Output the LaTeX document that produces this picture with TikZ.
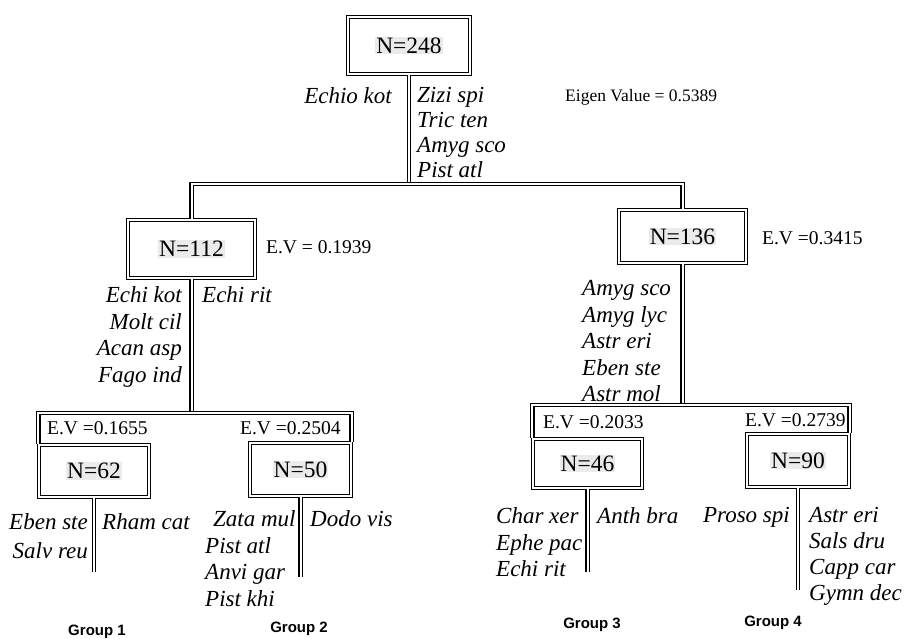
\documentclass[tikz,border=0pt]{standalone}
\usepackage{fontspec}
\setmainfont{Liberation Serif}
\newfontfamily\grpfont{Liberation Sans}
\setlength{\fboxsep}{1pt}
\newcommand{\nlab}[1]{\colorbox{black!8}{#1}}

\tikzset{
  nbox/.style={draw, double, double distance=2.2pt, line width=1.3pt, inner sep=0pt,
    font=\fontsize{23.5}{23.5}\selectfont},
  link/.style={double, double distance=2pt, line width=1.3pt},
  sp/.style={inner sep=0pt, font=\fontsize{23}{26.5}\selectfont\itshape},
  ev/.style={inner sep=0pt, anchor=west, font=\fontsize{19.5}{19.5}\selectfont},
  grp/.style={inner sep=0pt, font=\grpfont\bfseries\fontsize{15}{15}\selectfont}
}

\begin{document}
\begin{tikzpicture}[x=1pt,y=-1pt]
  \useasboundingbox (0,0) rectangle (905,639);

  % boxes
  \node[nbox, minimum width=122pt, minimum height=57pt] (n248) at (409,45.5) {\nlab{N=248}};
  \node[nbox, minimum width=127pt, minimum height=58pt] (n112) at (191.5,249) {\nlab{N=112}};
  \node[nbox, minimum width=127pt, minimum height=53pt] (n136) at (682.5,236.5) {\nlab{N=136}};
  \node[nbox, minimum width=110pt, minimum height=52pt] (n62) at (94,471) {\nlab{N=62}};
  \node[nbox, minimum width=101pt, minimum height=53pt] (n50) at (300.5,469.5) {\nlab{N=50}};
  \node[nbox, minimum width=109pt, minimum height=49pt] (n46) at (587.5,463.5) {\nlab{N=46}};
  \node[nbox, minimum width=102pt, minimum height=53pt] (n90) at (798,460.5) {\nlab{N=90}};

  % joints and leaf ends
  \coordinate (jA) at (409,184);
  \coordinate (jB) at (191.5,413);
  \coordinate (jC) at (682.5,405);
  \coordinate (e62) at (94,572);
  \coordinate (e50) at (300.5,577);
  \coordinate (e46) at (587.5,572);
  \coordinate (e90) at (798,590);

  % tree
  \draw[link] (n248) -- (jA);
  \draw[link] (n112) |- (jA) -| (n136);
  \draw[link] (n112) -- (jB);
  \draw[link] (n62.north west) |- (jB) -| (n50.north east);
  \draw[link] (n136) -- (jC);
  \draw[link] (n46.north west) |- (jC) -| (n90.north east);
  \draw[link] (n62) -- (e62);
  \draw[link] (n50) -- (e50);
  \draw[link] (n46) -- (e46);
  \draw[link] (n90) -- (e90);

  % species
  \node[sp, anchor=north east, align=right] (s248l) at (392,87.5) {Echio kot};
  \node[sp, anchor=north west, align=left, font=\fontsize{23}{25}\selectfont\itshape] (s248r) at (417,87.5)
    {Zizi spi\\Tric ten\\Amyg sco\\Pist atl};
  \node[sp, anchor=north east, align=right] (s112l) at (182,286.5)
    {Echi kot\\Molt cil\\Acan asp\\Fago ind};
  \node[sp, anchor=north west, align=left] (s112r) at (202,286.5) {Echi rit};
  \node[sp, anchor=north west, align=left] (s136l) at (582,280.5)
    {Amyg sco\\Amyg lyc\\Astr eri\\Eben ste\\Astr mol};
  \node[sp, anchor=north east, align=right, font=\fontsize{23}{29}\selectfont\itshape] (s62l) at (88,513.5)
    {Eben ste\\Salv reu};
  \node[sp, anchor=north west, align=left] (s62r) at (102,513.5) {Rham cat};
  \node[sp, anchor=north west, align=left] (s50l) at (205,510.5)
    {\hspace{8pt}Zata mul\\Pist atl\\Anvi gar\\Pist khi};
  \node[sp, anchor=north west, align=left] (s50r) at (310,510.5) {Dodo vis};
  \node[sp, anchor=north west, align=left] (s46l) at (496,507.5)
    {Char xer\\Ephe pac\\Echi rit};
  \node[sp, anchor=north west, align=left] (s46r) at (597,507.5) {Anth bra};
  \node[sp, anchor=north east, align=right] (s90l) at (790,507.5) {Proso spi};
  \node[sp, anchor=north west, align=left, font=\fontsize{23}{26}\selectfont\itshape] (s90r) at (809,507.5)
    {Astr eri\\Sals dru\\Capp car\\Gymn dec};

  % eigen values
  \node[ev, font=\fontsize{17.5}{17.5}\selectfont] (ev248) at (565,97) {Eigen Value = 0.5389};
  \node[ev] (ev112) at (266,247) {E.V = 0.1939};
  \node[ev] (ev136) at (762,238) {E.V =0.3415};
  \node[ev] (ev62) at (47,428) {E.V =0.1655};
  \node[ev] (ev50) at (240,428) {E.V =0.2504};
  \node[ev] (ev46) at (543,422) {E.V =0.2033};
  \node[ev] (ev90) at (745,420) {E.V =0.2739};

  % groups
  \node[grp] (g1) at (97,632) {Group 1};
  \node[grp] (g2) at (299,629) {Group 2};
  \node[grp] (g3) at (592,625) {Group 3};
  \node[grp] (g4) at (773,623) {Group 4};
\end{tikzpicture}
\end{document}
